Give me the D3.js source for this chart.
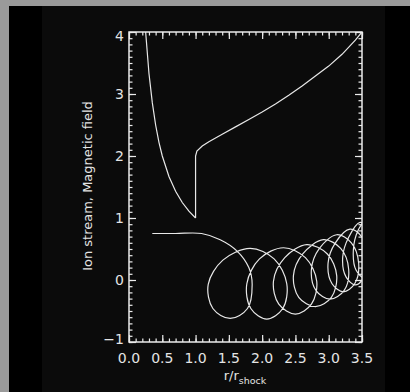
<!DOCTYPE html>
<html>
<head>
<meta charset="utf-8">
<script src="https://cdn.jsdelivr.net/npm/d3@7"></script>
<style>
  html, body { margin: 0; padding: 0; background: #9a9a9a; }
  svg { display: block; }
  text { font-family: "DejaVu Sans", sans-serif; fill: #e4e4e4; }
</style>
</head>
<body>
<div id="chart"></div>
<script>
// magnetic field, upstream part (r < r_shock)
const fieldInX = [0.25, 0.3, 0.35, 0.4, 0.45, 0.5, 0.6, 0.7, 0.8, 0.9, 1.0];
const fieldInY = [4.0, 3.33, 2.86, 2.5, 2.22, 2.0, 1.67, 1.43, 1.25, 1.11, 1.0];
// jump at the shock and the downstream part
const fieldOutX = [1.0, 1.0, 1.02, 1.1, 1.2, 1.4, 1.6, 1.8, 2.0, 2.2, 2.4, 2.6, 2.8, 3.0, 3.2, 3.4, 3.5];
const fieldOutY = [1.0, 2.0, 2.08, 2.16, 2.23, 2.35, 2.47, 2.59, 2.71, 2.84, 2.98, 3.13, 3.29, 3.45, 3.64, 3.87, 4.0];

// ion stream trajectory, in order of travel (one gyration per row)
const ionX = [0.35, 0.7, 1.09, 1.37, 1.62, 1.80,
  1.85, 1.78, 1.52, 1.26, 1.19, 1.41,
  1.82, 2.18, 2.37, 2.31, 2.07, 1.83, 1.77, 1.96,
  2.32, 2.65, 2.82, 2.74, 2.50, 2.25, 2.17, 2.34,
  2.67, 2.98, 3.12, 3.04, 2.80, 2.55, 2.47, 2.61,
  2.92, 3.18, 3.30, 3.23, 3.02, 2.81, 2.74, 2.86,
  3.12, 3.34, 3.45, 3.39, 3.22, 3.05, 2.99, 3.10,
  3.32, 3.50, 3.58, 3.53, 3.40, 3.26, 3.21, 3.30,
  3.47, 3.63, 3.70, 3.66, 3.54, 3.41, 3.37, 3.44,
  3.60];
const ionY = [0.75, 0.75, 0.75, 0.65, 0.47, 0.20,
  -0.07, -0.46, -0.62, -0.46, -0.07, 0.32,
  0.51, 0.34, -0.06, -0.46, -0.63, -0.46, -0.06, 0.34,
  0.52, 0.36, -0.02, -0.39, -0.55, -0.39, -0.02, 0.36,
  0.57, 0.42, 0.07, -0.28, -0.43, -0.28, 0.07, 0.42,
  0.65, 0.51, 0.17, -0.17, -0.31, -0.17, 0.17, 0.51,
  0.73, 0.60, 0.27, -0.06, -0.19, -0.06, 0.27, 0.60,
  0.82, 0.69, 0.37, 0.05, -0.08, 0.05, 0.37, 0.69,
  0.93, 0.80, 0.48, 0.16, 0.03, 0.16, 0.48, 0.80,
  1.03];

const xTicks = [0, 0.5, 1.0, 1.5, 2.0, 2.5, 3.0, 3.5];
const yTicks = [-1, 0, 1, 2, 3, 4];

const width = 410, height = 392;
const plot = {left: 129, right: 362, top: 32, bottom: 342};

const svg = d3.select("#chart").append("svg")
  .attr("width", width)
  .attr("height", height);

// frame: grey border, black page, slightly lighter panel
svg.append("rect").attr("width", width).attr("height", height).attr("fill", "#9a9a9a");
svg.append("rect").attr("x", 9).attr("y", 6).attr("width", width - 9).attr("height", height - 6).attr("fill", "#000");
svg.append("rect").attr("x", 42).attr("y", 6).attr("width", 343).attr("height", height - 6).attr("fill", "#0b0b0b");

const x = d3.scaleLinear().domain([0, 3.5]).range([plot.left, plot.right]);
const y = d3.scaleLinear().domain([-1, 4]).range([plot.bottom, plot.top]);

svg.append("defs").append("clipPath").attr("id", "clip")
  .append("rect")
  .attr("x", plot.left).attr("y", plot.top)
  .attr("width", plot.right - plot.left).attr("height", plot.bottom - plot.top);

const line = d3.line().x(d => x(d[0])).y(d => y(d[1]));

const curves = svg.append("g").attr("clip-path", "url(#clip)")
  .attr("fill", "none").attr("stroke", "#e8e8e8").attr("stroke-width", 1.2);

curves.append("path").attr("d", line(d3.zip(fieldInX, fieldInY)));
curves.append("path").attr("d", line(d3.zip(fieldOutX, fieldOutY)));
curves.append("path")
  .attr("d", line.curve(d3.curveCatmullRom.alpha(0.5))(d3.zip(ionX, ionY)));

// axes on all four sides, ticks pointing inwards
const minorX = d3.range(0, 3.5001, 0.1);
const minorY = d3.range(-1, 4.0001, 0.1);
const axisColor = "#ececec";

const axes = svg.append("g");
const mkAxis = (axisFn, scale, tickVals, size, transform) => {
  const g = axes.append("g").attr("transform", transform)
    .call(axisFn(scale).tickValues(tickVals).tickSize(size).tickFormat(""));
  g.select(".domain").remove();
  g.selectAll("line").attr("stroke", axisColor).attr("stroke-width", 1.2);
  return g;
};
// minor
mkAxis(d3.axisBottom, x, minorX, -3.5, `translate(0,${plot.bottom})`);
mkAxis(d3.axisTop, x, minorX, -3.5, `translate(0,${plot.top})`);
mkAxis(d3.axisLeft, y, minorY, -3.5, `translate(${plot.left},0)`);
mkAxis(d3.axisRight, y, minorY, -3.5, `translate(${plot.right},0)`);
// major
mkAxis(d3.axisBottom, x, xTicks, -7, `translate(0,${plot.bottom})`);
mkAxis(d3.axisTop, x, xTicks, -7, `translate(0,${plot.top})`);
mkAxis(d3.axisLeft, y, yTicks, -7, `translate(${plot.left},0)`);
mkAxis(d3.axisRight, y, yTicks, -7, `translate(${plot.right},0)`);

axes.append("rect")
  .attr("x", plot.left).attr("y", plot.top)
  .attr("width", plot.right - plot.left).attr("height", plot.bottom - plot.top)
  .attr("fill", "none").attr("stroke", axisColor).attr("stroke-width", 1.5);

// tick labels
svg.append("g").selectAll("text")
  .data(xTicks).join("text")
  .attr("x", d => x(d))
  .attr("y", 363)
  .attr("text-anchor", "middle")
  .style("font-size", "14px")
  .text(d => d.toFixed(1));

svg.append("g").selectAll("text")
  .data(yTicks).join("text")
  .attr("x", 124)
  .attr("y", d => {
    if (d === 4) return y(d) + 4;
    if (d === -1) return y(d) - 3.5;
    return y(d);
  })
  .attr("dy", "0.36em")
  .attr("text-anchor", "end")
  .style("font-size", "14px")
  .text(d => d < 0 ? "\u2212" + Math.abs(d) : d);

// axis titles
svg.append("text")
  .attr("transform", `translate(92,${(plot.top + plot.bottom) / 2 - 1}) rotate(-90)`)
  .attr("text-anchor", "middle")
  .style("font-size", "13px")
  .text("Ion stream, Magnetic field");

const xt = svg.append("text")
  .attr("x", 245)
  .attr("y", 380)
  .attr("text-anchor", "middle")
  .style("font-size", "13px");
xt.append("tspan").text("r/r");
xt.append("tspan").attr("dy", 4).style("font-size", "9.5px").text("shock");
</script>
</body>
</html>
